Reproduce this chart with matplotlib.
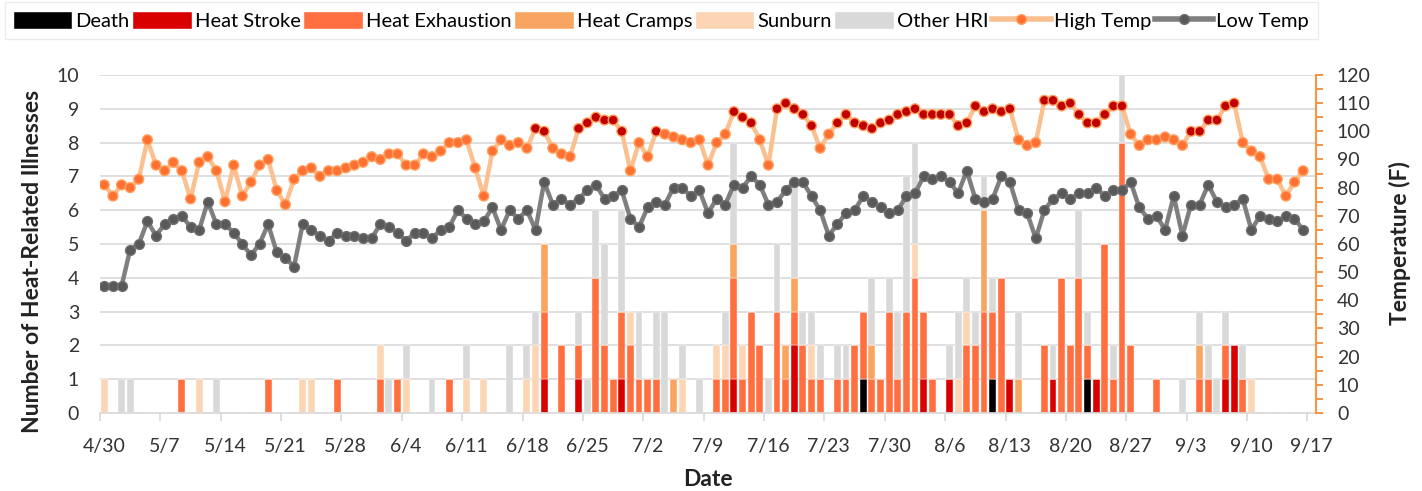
import numpy as np
import matplotlib
matplotlib.use('Agg')
import matplotlib.pyplot as plt
from matplotlib.lines import Line2D

plt.rcParams['font.family'] = ['Lato', 'DejaVu Sans']

# day 0 = 4/30, one value per day up to 9/16 (temperature in F)
high_temp = [81, 77, 81, 80, 83, 97, 88, 86, 89, 86,
             76, 89, 91, 86, 75, 88, 77, 82, 88, 90,
             79, 74, 83, 86, 87, 84, 86, 86, 87, 88,
             89, 91, 90, 92, 92, 88, 88, 92, 91, 93,
             96, 96, 97, 87, 77, 93, 97, 95, 96, 94,
             101, 100, 94, 92, 91, 101, 103, 105, 104, 104,
             100, 86, 96, 91, 100, 99, 98, 97, 96, 97,
             88, 96, 99, 107, 105, 103, 97, 88, 108, 110,
             108, 106, 102, 94, 99, 103, 106, 103, 102, 101,
             103, 104, 106, 107, 108, 106, 106, 106, 106, 102,
             103, 109, 107, 108, 107, 108, 97, 95, 96, 111,
             111, 109, 110, 106, 103, 103, 106, 109, 109, 99,
             95, 97, 97, 98, 97, 95, 100, 100, 104, 104,
             109, 110, 96, 93, 91, 83, 83, 77, 82, 86]

low_temp = [45, 45, 45, 58, 60, 68, 63, 67, 69, 70,
            66, 65, 75, 67, 67, 64, 60, 56, 60, 67,
            57, 55, 52, 67, 65, 63, 61, 64, 63, 63,
            62, 62, 67, 66, 64, 61, 64, 64, 62, 65,
            66, 72, 69, 67, 68, 73, 65, 72, 69, 72,
            65, 82, 74, 76, 74, 76, 79, 81, 76, 77,
            79, 69, 66, 73, 75, 74, 80, 80, 77, 79,
            71, 76, 74, 81, 80, 84, 81, 74, 75, 79,
            82, 82, 77, 72, 63, 67, 71, 72, 77, 75,
            73, 71, 72, 77, 78, 84, 83, 84, 82, 78,
            86, 76, 75, 76, 84, 82, 72, 71, 62, 72,
            76, 78, 76, 78, 78, 80, 77, 79, 79, 82,
            73, 69, 70, 65, 77, 63, 74, 74, 81, 75,
            73, 74, 76, 65, 70, 69, 68, 70, 69, 65]

# number of cases, {day index: count}
death = {88: 1, 103: 1, 114: 1}
heat_stroke = {51: 1, 55: 1, 60: 1, 73: 1, 80: 2, 95: 1, 98: 1, 105: 1,
               110: 1, 115: 1, 130: 1, 131: 2}
heat_exhaustion = {9: 1, 19: 1, 27: 1, 32: 1, 34: 1, 40: 1, 51: 2, 53: 2, 55: 1,
                   57: 4, 58: 2, 59: 1, 60: 2, 61: 2, 62: 1, 63: 1, 64: 1, 71: 1,
                   72: 1, 73: 3, 74: 1, 75: 3, 76: 2, 78: 3, 79: 1, 80: 1, 81: 2,
                   82: 1, 83: 1, 85: 1, 86: 1, 87: 2, 88: 2, 89: 1, 90: 1, 91: 3,
                   92: 1, 93: 3, 94: 4, 95: 2, 96: 1, 100: 2, 101: 2, 102: 3,
                   103: 2, 104: 4, 109: 2, 111: 4, 112: 2, 113: 4, 114: 1, 116: 5,
                   117: 1, 118: 8, 119: 2, 122: 1, 127: 1, 128: 1, 130: 1, 132: 1}
heat_cramps = {51: 2, 66: 1, 73: 1, 79: 1, 80: 1, 89: 1, 102: 3, 106: 1, 127: 1}
sunburn = {0: 1, 11: 1, 23: 1, 24: 1, 32: 1, 35: 1, 42: 1, 44: 1, 49: 1, 50: 2,
           61: 1, 67: 1, 71: 1, 72: 1, 74: 1, 82: 1, 94: 1, 99: 1, 100: 1, 133: 1}
other_hri = {2: 1, 3: 1, 13: 1, 33: 1, 35: 1, 38: 1, 42: 1, 47: 2, 49: 1, 50: 1,
             55: 1, 56: 1, 57: 2, 58: 3, 60: 3, 62: 2, 64: 2, 65: 3, 67: 1, 69: 1,
             72: 1, 73: 3, 77: 1, 78: 2, 80: 3, 81: 1, 82: 1, 83: 1, 85: 1, 86: 1,
             89: 2, 91: 1, 92: 2, 93: 4, 94: 3, 98: 1, 99: 2, 100: 1, 101: 1,
             102: 1, 103: 1, 106: 2, 110: 1, 113: 2, 114: 1, 117: 1, 118: 2,
             125: 1, 127: 1, 128: 1, 129: 1, 130: 1, 132: 1}

week_labels = ['4/30', '5/7', '5/14', '5/21', '5/28', '6/4', '6/11', '6/18', '6/25',
               '7/2', '7/9', '7/16', '7/23', '7/30', '8/6', '8/13', '8/20', '8/27',
               '9/3', '9/10', '9/17']

n = len(high_temp)
days = np.arange(n)


def to_series(d):
    s = np.zeros(n)
    for k, v in d.items():
        s[k] = v
    return s


cats = [('Death', death, '#000000'),
        ('Heat Stroke', heat_stroke, '#D90000'),
        ('Heat Exhaustion', heat_exhaustion, '#FF6F3F'),
        ('Heat Cramps', heat_cramps, '#F9A562'),
        ('Sunburn', sunburn, '#FCD5B4'),
        ('Other HRI', other_hri, '#D9D9D9')]

fig = plt.figure(figsize=(14.22, 4.91), dpi=100)
ax = fig.add_axes([0.0703, 0.1589, 0.8552, 0.6884])
ax2 = ax.twinx()

handles = []
bottom = np.zeros(n)
for name, d, col in cats:
    vals = to_series(d)
    b = ax.bar(days, vals, width=0.8, bottom=bottom, color=col,
               edgecolor='white', linewidth=0.3, label=name, zorder=2)
    bottom += vals
    handles.append(b)

ax.set_xlim(-0.5, 140.5)
ax.set_ylim(0, 10)
ax.set_yticks(range(0, 11))
ax.grid(axis='y', color='#D9D9D9', linewidth=1.2, zorder=0)
ax.set_axisbelow(True)
for s in ['left', 'top', 'right']:
    ax.spines[s].set_visible(False)
ax.spines['bottom'].set_color('#D9D9D9')
ax.spines['bottom'].set_linewidth(1.2)
ax.tick_params(axis='y', length=0, pad=15, labelsize=14, labelcolor='#333333')

ax.set_xticks(np.arange(0, 141, 7))
ax.set_xticklabels(week_labels)
ax.set_xticks(np.arange(-0.5, 140, 7), minor=True)
ax.tick_params(axis='x', which='major', length=0, pad=18, labelsize=14, labelcolor='#333333')
ax.tick_params(axis='x', which='minor', length=6, width=1.2, color='#D9D9D9')

# temperature lines
low_line = '#7F7F7F'
ax2.plot(days, low_temp, color=low_line, linewidth=3.2, zorder=3)
ax2.scatter(days, low_temp, s=50, color='#595959', edgecolors='#6E6E6E',
            linewidths=1, zorder=4)

ax2.plot(days, high_temp, color='#FAC090', linewidth=3.2, zorder=3)
hot = ['#C00000' if t >= 100 else '#FF7033' for t in high_temp]
ax2.scatter(days, high_temp, s=50, color=hot, edgecolors='#FFA260',
            linewidths=1, zorder=4)

ax2.set_ylim(0, 120)
ax2.set_yticks(range(0, 121, 10))
ax2.set_yticks(range(0, 121, 5), minor=True)
for s in ['left', 'top', 'bottom']:
    ax2.spines[s].set_visible(False)
ax2.spines['right'].set_color('#F79646')
ax2.spines['right'].set_linewidth(1.5)
ax2.tick_params(axis='y', which='both', length=5, width=1.5, color='#F79646',
                pad=10, labelsize=14, labelcolor='#333333')

fig.text(0.0232, 0.468, 'Number of Heat-Related Illnesses', rotation=90,
         ha='center', va='center', fontsize=16.5, fontweight='bold', color='#222222')
fig.text(0.9845, 0.505, 'Temperature (F)', rotation=90,
         ha='center', va='center', fontsize=16.5, fontweight='bold', color='#222222')
fig.text(0.498, 0.024, 'Date', ha='center', va='center',
         fontsize=16.5, fontweight='bold', color='#222222')

handles.append(Line2D([], [], color='#FAC090', linewidth=4, marker='o',
                      markersize=7, markerfacecolor='#FF7033', markeredgecolor='#FFA260'))
handles.append(Line2D([], [], color=low_line, linewidth=4, marker='o',
                      markersize=7, markerfacecolor='#595959', markeredgecolor='#6E6E6E'))
labels = [c[0] for c in cats] + ['High Temp', 'Low Temp']
leg = fig.legend(handles, labels, loc='upper left',
                 bbox_to_anchor=(5 / 1422, 0.995, 1313 / 1422, 0.0), mode='expand',
                 ncol=8, fontsize=14.5, frameon=True, fancybox=False,
                 handlelength=2.9, handleheight=0.95, handletextpad=0.15,
                 columnspacing=0.5, borderpad=0.45, borderaxespad=0)
leg.get_frame().set_edgecolor('#E6E6E6')
leg.get_frame().set_linewidth(1)

fig.savefig('out.png', dpi=100)
